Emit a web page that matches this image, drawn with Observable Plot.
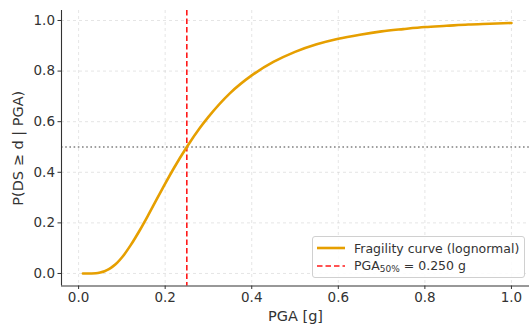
<!DOCTYPE html>
<html>
<head>
<meta charset="utf-8">
<script src="https://cdn.jsdelivr.net/npm/d3@7"></script>
<script src="https://cdn.jsdelivr.net/npm/@observablehq/plot@0.6"></script>
<style>
  html, body { margin: 0; padding: 0; background: #fff; }
  #wrap { position: relative; width: 529px; height: 327px; font-family: "DejaVu Sans", sans-serif; }
  #legend { position: absolute; left: 312px; top: 236px; width: 213px; height: 42px;
    border: 1px solid #d0d0d0; border-radius: 3px; background: rgba(255,255,255,0.85);
    font-size: 12.5px; color: #333; box-sizing: border-box; }
  .row { position: absolute; left: 4px; height: 16px; display: flex; align-items: center; }
  .row svg { margin-right: 9px; }
  sub { font-size: 9px; vertical-align: -2px; }
</style>
</head>
<body>
<div id="wrap"></div>
<script>
// PGA values [g] and exceedance probability
const pga  = [0.01, 0.02, 0.03, 0.04, 0.05, 0.06, 0.07, 0.08, 0.09, 0.10, 0.12, 0.14, 0.16, 0.18, 0.20, 0.22, 0.25, 0.28, 0.30, 0.35, 0.40, 0.45, 0.50, 0.55, 0.60, 0.65, 0.70, 0.75, 0.80, 0.85, 0.90, 0.95, 1.00];
const prob = [0.000, 0.000, 0.0002, 0.001, 0.004, 0.009, 0.017, 0.029, 0.044, 0.063, 0.111, 0.167, 0.228, 0.292, 0.355, 0.416, 0.500, 0.575, 0.619, 0.713, 0.783, 0.836, 0.876, 0.906, 0.928, 0.944, 0.957, 0.966, 0.974, 0.979, 0.984, 0.987, 0.990];
const median = [0.25];
const halfLevel = [0.5];
const xTicks = [0.0, 0.2, 0.4, 0.6, 0.8, 1.0];
const yTicks = [0.0, 0.2, 0.4, 0.6, 0.8, 1.0];
const xLabel = "PGA [g]";
const yLabel = "P(DS ≥ d | PGA)";
const legendCurve = "Fragility curve (lognormal)";

const data = pga.map((x, i) => ({x, y: prob[i]}));
const xDom = [-0.0395, 1.0417];
const yDom = [-0.0495, 1.0395];
const txt = "#333";

const chart = Plot.plot({
  width: 529,
  height: 327,
  marginLeft: 61,
  marginRight: 0,
  marginTop: 10,
  marginBottom: 41.5,
  style: {fontFamily: "DejaVu Sans, sans-serif", color: txt, background: "#fff"},
  x: {domain: xDom, label: null},
  y: {domain: yDom, label: null},
  marks: [
    Plot.gridX(xTicks, {stroke: "#c8c8c8", strokeOpacity: 0.6, strokeDasharray: "3,3", strokeWidth: 0.8}),
    Plot.gridY(yTicks, {stroke: "#c8c8c8", strokeOpacity: 0.6, strokeDasharray: "3,3", strokeWidth: 0.8}),
    Plot.ruleY(halfLevel, {stroke: "#808080", strokeWidth: 1.6, strokeDasharray: "1.6,2.6"}),
    Plot.ruleX(median, {stroke: "#ff1a1a", strokeWidth: 1.6, strokeDasharray: "5.5,3"}),
    Plot.line(data, {x: "x", y: "y", stroke: "#E69F00", strokeWidth: 2.6, curve: "monotone-x"}),
    Plot.ruleX([xDom[0]], {stroke: txt, strokeWidth: 1.1}),
    Plot.ruleY([yDom[0]], {stroke: txt, strokeWidth: 1.1}),
    Plot.axisX(xTicks, {tickSize: 3.5, tickPadding: 3, fontSize: 13.5, tickFormat: d3.format(".1f"), stroke: txt, fill: txt, label: null}),
    Plot.axisY(yTicks, {tickSize: 3.5, tickPadding: 3, fontSize: 13.5, tickFormat: d3.format(".1f"), stroke: txt, fill: txt, label: null}),
    Plot.text([xLabel], {frameAnchor: "bottom", lineAnchor: "middle", dy: 30.5, fontSize: 14.5, fill: txt}),
    Plot.text([yLabel], {frameAnchor: "left", lineAnchor: "middle", textAnchor: "middle", rotate: -90, dx: -43, fontSize: 14.5, fill: txt})
  ]
});
const wrap = document.getElementById("wrap");
wrap.appendChild(chart);

const legend = document.createElement("div");
legend.id = "legend";
legend.innerHTML = `
  <div class="row" style="top:3px"><svg width="28" height="6"><line x1="0" x2="28" y1="3" y2="3" stroke="#E69F00" stroke-width="2.6"/></svg><span>${legendCurve}</span></div>
  <div class="row" style="top:21px"><svg width="28" height="6"><line x1="0" x2="28" y1="3" y2="3" stroke="#ff1a1a" stroke-width="1.6" stroke-dasharray="5.5,3"/></svg><span>PGA<sub>50%</sub> = ${median[0].toFixed(3)} g</span></div>`;
wrap.appendChild(legend);
</script>
</body>
</html>
